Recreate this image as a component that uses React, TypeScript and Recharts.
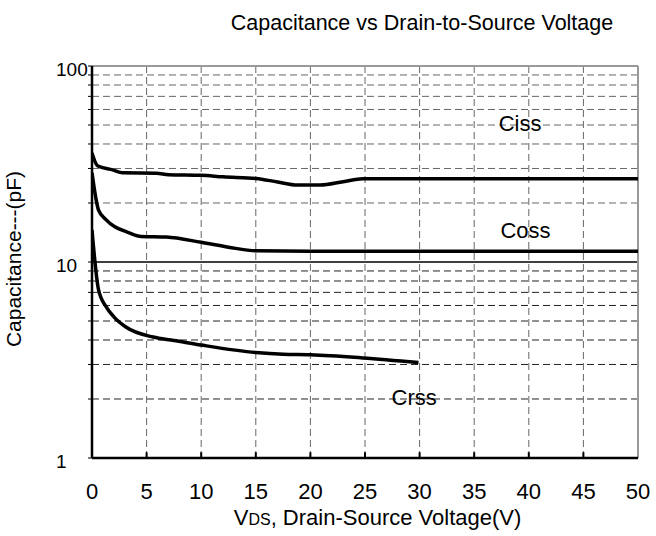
import React from 'react';
import {
  LineChart,
  Line,
  XAxis,
  YAxis,
  ReferenceLine,
  ReferenceDot,
} from 'recharts';

// values
const cissData = [
  { v: 0, c: 36 },
  { v: 0.5, c: 31 },
  { v: 1.9, c: 29.5 },
  { v: 2.8, c: 28.5 },
  { v: 5.9, c: 28.4 },
  { v: 7, c: 27.9 },
  { v: 10, c: 27.7 },
  { v: 12, c: 27.2 },
  { v: 15, c: 26.7 },
  { v: 17, c: 25.6 },
  { v: 18.8, c: 24.7 },
  { v: 20.9, c: 24.7 },
  { v: 23, c: 25.7 },
  { v: 24.8, c: 26.6 },
  { v: 30, c: 26.6 },
  { v: 40, c: 26.6 },
  { v: 50, c: 26.6 },
];

const cossData = [
  { v: 0, c: 28.5 },
  { v: 0.6, c: 18.4 },
  { v: 1.3, c: 16.4 },
  { v: 3.4, c: 14.1 },
  { v: 4.5, c: 13.5 },
  { v: 6.8, c: 13.4 },
  { v: 10, c: 12.6 },
  { v: 12.5, c: 11.9 },
  { v: 15, c: 11.4 },
  { v: 20, c: 11.35 },
  { v: 30, c: 11.35 },
  { v: 40, c: 11.35 },
  { v: 50, c: 11.35 },
];

const crssData = [
  { v: 0, c: 14.6 },
  { v: 0.6, c: 7.2 },
  { v: 1.3, c: 5.9 },
  { v: 2, c: 5.25 },
  { v: 3.1, c: 4.66 },
  { v: 5.6, c: 4.14 },
  { v: 7.5, c: 3.98 },
  { v: 10, c: 3.77 },
  { v: 15, c: 3.45 },
  { v: 17.5, c: 3.38 },
  { v: 20, c: 3.36 },
  { v: 24.8, c: 3.24 },
  { v: 29.9, c: 3.07 },
];

const xTicks = [0, 5, 10, 15, 20, 25, 30, 35, 40, 45, 50];
const yLabels = [1, 10, 100];
const yMinor = [2, 3, 4, 5, 6, 7, 8, 9, 20, 30, 40, 50, 60, 70, 80, 90];
const yTicks = [1, 2, 3, 4, 5, 6, 7, 8, 9, 10, 20, 30, 40, 50, 60, 70, 80, 90, 100];

const FONT = '"Liberation Sans", Arial, sans-serif';

const YTick = (props: any) => {
  const { y, payload } = props;
  if (!yLabels.includes(payload.value)) return null;
  return (
    <text x={56} y={y} dy={10} textAnchor="start" fontSize={19} fontFamily={FONT} fill="#000">
      {payload.value}
    </text>
  );
};

const XTick = (props: any) => {
  const { x, y, payload } = props;
  return (
    <text x={x} y={y} dy={33} textAnchor="middle" fontSize={22} fontFamily={FONT} fill="#000">
      {payload.value}
    </text>
  );
};

export default function App() {
  return (
    <div style={{ position: 'absolute', left: 0, top: 0, width: 656, height: 536, background: '#fff' }}>
      <div
        style={{
          position: 'absolute',
          left: 0,
          width: 844,
          top: 11,
          textAlign: 'center',
          fontFamily: FONT,
          fontSize: 21.5,
        }}
      >
        Capacitance vs Drain-to-Source Voltage
      </div>
      <div
        style={{
          position: 'absolute',
          left: 0,
          width: 755,
          top: 505,
          textAlign: 'center',
          fontFamily: FONT,
          fontSize: 22,
        }}
      >
        V<span style={{ fontSize: 16 }}>DS</span>, Drain-Source Voltage(V)
      </div>
      <div
        style={{
          position: 'absolute',
          left: 14,
          top: 259,
          transform: 'translate(-50%, -50%) rotate(-90deg)',
          whiteSpace: 'nowrap',
          fontFamily: FONT,
          fontSize: 21,
        }}
      >
        Capacitance---(pF)
      </div>
      <LineChart
        width={656}
        height={536}
        margin={{ top: 66, right: 18, bottom: 0, left: 0 }}
        style={{ position: 'absolute', left: 0, top: 0 }}
      >
        <XAxis
          type="number"
          dataKey="v"
          domain={[0, 50]}
          ticks={xTicks}
          height={78}
          tick={<XTick />}
          tickLine={false}
          axisLine={{ stroke: '#000', strokeWidth: 2.5 }}
          allowDataOverflow
        />
        <YAxis
          type="number"
          dataKey="c"
          scale="log"
          domain={[1, 100]}
          ticks={yTicks}
          width={92}
          tick={<YTick />}
          tickSize={4}
          tickLine={{ stroke: '#000', strokeWidth: 1 }}
          axisLine={{ stroke: '#000', strokeWidth: 2.5 }}
          interval={0}
          allowDataOverflow
        />
        {yMinor.map((y) => (
          <ReferenceLine
            key={`h${y}`}
            y={y}
            stroke={y < 10 ? '#222' : '#666'}
            strokeWidth={1}
            strokeDasharray="7 4"
          />
        ))}
        {xTicks.slice(1, -1).map((x) => (
          <ReferenceLine key={`v${x}`} x={x} stroke="#666" strokeWidth={1} strokeDasharray="7 4" />
        ))}
        {xTicks.slice(1, -1).map((x) => (
          <ReferenceLine
            key={`t${x}`}
            segment={[
              { x, y: 1 },
              { x, y: 1.07 },
            ]}
            stroke="#000"
            strokeWidth={2}
          />
        ))}
        <ReferenceLine y={10} stroke="#000" strokeWidth={1.5} />
        <ReferenceLine y={100} stroke="#999" strokeWidth={2} />
        <ReferenceLine x={50} stroke="#999" strokeWidth={2} />
        <Line
          data={cissData}
          dataKey="c"
          type="monotone"
          stroke="#000"
          strokeWidth={3.5}
          dot={false}
          isAnimationActive={false}
        />
        <Line
          data={cossData}
          dataKey="c"
          type="monotone"
          stroke="#000"
          strokeWidth={3.5}
          dot={false}
          isAnimationActive={false}
        />
        <Line
          data={crssData}
          dataKey="c"
          type="monotone"
          stroke="#000"
          strokeWidth={3.5}
          dot={false}
          isAnimationActive={false}
        />
        <ReferenceDot
          x={39.2}
          y={51}
          r={0}
          label={{ value: 'Ciss', position: 'center', fontSize: 22, fontFamily: FONT, fill: '#000' }}
        />
        <ReferenceDot
          x={39.7}
          y={14.6}
          r={0}
          label={{ value: 'Coss', position: 'center', fontSize: 22, fontFamily: FONT, fill: '#000' }}
        />
        <ReferenceDot
          x={29.5}
          y={2.05}
          r={0}
          label={{ value: 'Crss', position: 'center', fontSize: 22, fontFamily: FONT, fill: '#000' }}
        />
      </LineChart>
    </div>
  );
}
